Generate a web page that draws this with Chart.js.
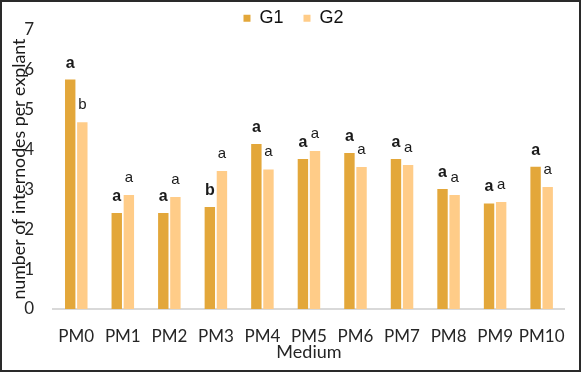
<!DOCTYPE html>
<html>
<head>
<meta charset="utf-8">
<script src="https://cdn.jsdelivr.net/npm/chart.js@4"></script>
<style>
html,body{margin:0;padding:0;background:#fff;}
#wrap{width:582px;height:372px;position:relative;}
</style>
</head>
<body>
<div id="wrap"><canvas id="c" width="582" height="372"></canvas></div>
<script>
const categories = ['PM0','PM1','PM2','PM3','PM4','PM5','PM6','PM7','PM8','PM9','PM10'];
const g1Values = [5.74, 2.40, 2.40, 2.55, 4.13, 3.75, 3.90, 3.75, 3.00, 2.64, 3.56];
const g2Values = [4.67, 2.85, 2.80, 3.45, 3.49, 3.95, 3.55, 3.60, 2.85, 2.68, 3.05];
const g1Letters = ['a','a','a','b','a','a','a','a','a','a','a'];
const g2Letters = ['b','a','a','a','a','a','a','a','a','a','a'];
const yTicks = [0,1,2,3,4,5,6,7];

const letterPlugin = {
  id: 'letters',
  afterDatasetsDraw(chart) {
    const ctx = chart.ctx;
    const sets = [
      {letters: g1Letters, font: 'bold 16px "Liberation Sans", Arial, sans-serif', off: 12},
      {letters: g2Letters, font: '15px "Liberation Sans", Arial, sans-serif', off: 13}
    ];
    sets.forEach((s, di) => {
      const meta = chart.getDatasetMeta(di);
      meta.data.forEach((bar, i) => {
        ctx.save();
        ctx.font = s.font;
        ctx.fillStyle = '#1a1a1a';
        ctx.textAlign = 'center';
        ctx.textBaseline = 'alphabetic';
        ctx.fillText(s.letters[i], bar.x, bar.y - s.off);
        ctx.restore();
      });
    });
  }
};

const borderPlugin = {
  id: 'frame',
  afterDraw(chart) {
    const ctx = chart.ctx;
    ctx.save();
    ctx.strokeStyle = '#2a2a2a';
    ctx.lineWidth = 2;
    ctx.strokeRect(1, 1, chart.width - 3, chart.height - 2);
    ctx.restore();
  }
};

new Chart(document.getElementById('c'), {
  type: 'bar',
  data: {
    labels: categories,
    datasets: [
      {label: 'G1', data: g1Values, backgroundColor: '#E3A73A', borderWidth: 0,
       categoryPercentage: 0.52, barPercentage: 0.86},
      {label: 'G2', data: g2Values, backgroundColor: '#FFCC88', borderWidth: 0,
       categoryPercentage: 0.52, barPercentage: 0.86}
    ]
  },
  options: {
    responsive: false,
    animation: false,
    layout: {padding: {top: -13, left: 16, right: 11, bottom: 2}},
    plugins: {
      tooltip: {enabled: false},
      legend: {
        position: 'top',
        maxHeight: 40,
        labels: {
          boxWidth: 7, boxHeight: 7, padding: 20,
          color: '#111',
          font: {family: '"Liberation Sans", Arial, sans-serif', size: 18}
        }
      }
    },
    scales: {
      x: {
        grid: {display: false, drawTicks: false},
        border: {display: true, color: '#D9D9D9', width: 2},
        ticks: {color: '#262626', padding: 17, maxRotation: 0, minRotation: 0, autoSkip: false,
                font: {family: 'Lato', size: 17}},
        title: {display: true, text: 'Medium', color: '#262626',
                font: {family: 'Lato', size: 18}, padding: {top: 7, bottom: 7}},
        afterFit(scale) { scale.height = 61; }
      },
      y: {
        min: 0, max: 7,
        afterBuildTicks(scale) { scale.ticks = yTicks.map(v => ({value: v})); },
        grid: {display: false, drawTicks: false},
        border: {display: false},
        ticks: {color: '#262626', padding: 19, font: {family: 'Lato', size: 17}},
        title: {display: true, text: 'number of internodes per explant', color: '#1a1a1a',
                font: {family: 'Lato', size: 17.8}, padding: {top: -7.5, bottom: 0}},
        afterFit(scale) { scale.width = 37; }
      }
    }
  },
  plugins: [letterPlugin, borderPlugin]
});
</script>
</body>
</html>
